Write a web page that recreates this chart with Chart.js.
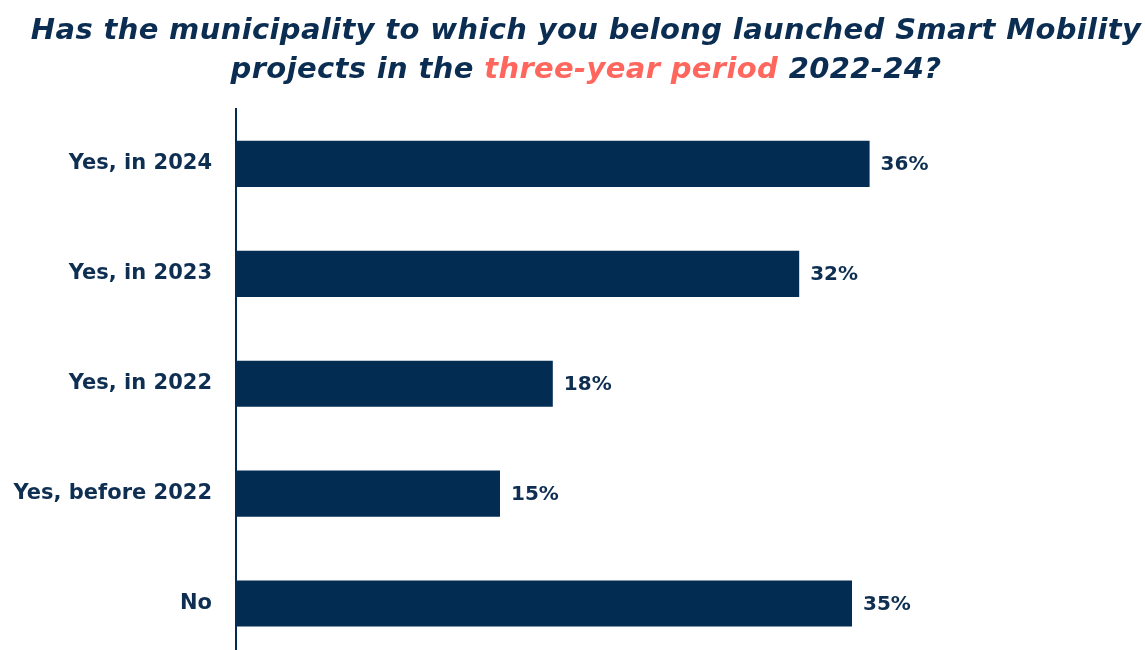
<!DOCTYPE html>
<html>
<head>
<meta charset="utf-8">
<script src="https://cdn.jsdelivr.net/npm/chart.js@4/dist/chart.umd.min.js"></script>
<style>
  html, body { margin: 0; padding: 0; background: #fff; overflow: hidden; }
  #wrap { position: relative; width: 1145px; height: 695px; }
  #title {
    position: absolute; left: 0; top: 10px; width: 1172px;
    text-align: center; color: #0b2d52;
    font: italic bold 29px "DejaVu Sans", sans-serif;
    line-height: 39px; letter-spacing: 0.35px;
  }
  #title span { color: #ff675e; }
  canvas { position: absolute; left: 0; top: 0; }
</style>
</head>
<body>
<div id="wrap">
  <canvas id="chart" width="1145" height="695" style="width:1145px;height:695px"></canvas>
  <div id="title">Has the municipality to which you belong launched Smart Mobility<br>projects in the <span>three-year period</span> 2022-24?</div>
</div>
<script>
const categories = ["Yes, in 2024", "Yes, in 2023", "Yes, in 2022", "Yes, before 2022", "No"];
const shares = [36, 32, 18, 15, 35];

const navy = "#022c52";
const textNavy = "#0e2f52";

// percentage printed just past the end of each bar
const valueLabels = {
  id: "valueLabels",
  afterDatasetsDraw(chart) {
    const ctx = chart.ctx;
    const meta = chart.getDatasetMeta(0);
    ctx.save();
    ctx.font = "bold 20px 'DejaVu Sans', sans-serif";
    ctx.fillStyle = textNavy;
    ctx.textAlign = "left";
    ctx.textBaseline = "middle";
    meta.data.forEach((bar, i) => {
      ctx.fillText(shares[i] + "%", bar.x + 11, bar.y + 1);
    });
    ctx.restore();
  },
};

new Chart("chart", {
  type: "bar",
  data: {
    labels: categories,
    datasets: [
      {
        data: shares,
        backgroundColor: navy,
        barPercentage: 0.84,
        categoryPercentage: 0.5,
      },
    ],
  },
  plugins: [valueLabels],
  options: {
    indexAxis: "y",
    responsive: false,
    animation: false,
    layout: { padding: { top: 109, right: 29, bottom: 0, left: 0 } },
    plugins: {
      legend: { display: false },
      tooltip: { enabled: false },
    },
    scales: {
      x: {
        display: false,
        min: 0,
        max: 50,
      },
      y: {
        afterFit: (scale) => {
          scale.width = 236;
        },
        border: { display: true, color: navy, width: 2 },
        grid: { display: false, drawTicks: false },
        ticks: {
          color: textNavy,
          padding: 24,
          font: { family: "DejaVu Sans", weight: "bold", size: 21 },
        },
      },
    },
  },
});
</script>
</body>
</html>
